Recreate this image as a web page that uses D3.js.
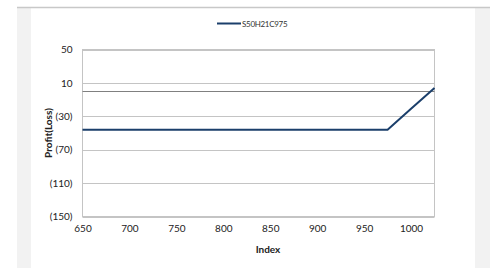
<!DOCTYPE html>
<html lang="en">
<head>
<meta charset="UTF-8">
<title>S50H21C975</title>
<script src="https://cdn.jsdelivr.net/npm/d3@7"></script>
<style>
  * { box-sizing: border-box; padding: 0; margin: 0; border: 0; }
  body { background: #fff; }
  text { font-family: Lato, "Open Sans", sans-serif; }
</style>
</head>
<body>
<svg width="495" height="268"></svg>
<script>
  // data
  var seriesName = "S50H21C975";
  var indexValues = [650, 675, 700, 725, 750, 775, 800, 825, 850, 875, 900, 925, 950, 975, 1000, 1025];
  var profitValues = [-46, -46, -46, -46, -46, -46, -46, -46, -46, -46, -46, -46, -46, -46, -21, 4];
  var xTicks = [650, 700, 750, 800, 850, 900, 950, 1000];
  var yTicks = [50, 10, -30, -70, -110, -150];

  var svg = d3.select("svg");

  // background frame
  svg.append("rect").attr("x", 17).attr("y", 7).attr("width", 473).attr("height", 261).attr("fill", "#f2f2f2");
  svg.append("rect").attr("x", 31).attr("y", 8).attr("width", 444).attr("height", 260).attr("fill", "#fff");
  svg.append("line").attr("x1", 17).attr("x2", 490).attr("y1", 7.5).attr("y2", 7.5)
    .attr("stroke", "#c8c8c8").attr("stroke-width", 1.5);

  var plot = { left: 82.5, right: 434.5, top: 49.5, bottom: 216.5 };

  var x = d3.scaleLinear().domain([650, 1025]).range([plot.left, plot.right]);
  var y = d3.scaleLinear().domain([-150, 50]).range([plot.bottom, plot.top]);

  // gridlines
  svg.append("g").selectAll("line").data(yTicks).enter().append("line")
    .attr("x1", plot.left).attr("x2", plot.right)
    .attr("y1", function (d) { return Math.round(y(d)) + 0.5; })
    .attr("y2", function (d) { return Math.round(y(d)) + 0.5; })
    .attr("stroke", "#c4c4c4").attr("stroke-width", 1);

  // plot border
  svg.append("rect").attr("x", plot.left).attr("y", plot.top)
    .attr("width", plot.right - plot.left).attr("height", plot.bottom - plot.top)
    .attr("fill", "none").attr("stroke", "#c4c4c4").attr("stroke-width", 1);

  // zero line
  svg.append("line").attr("x1", plot.left).attr("x2", plot.right)
    .attr("y1", Math.round(y(0)) + 0.5).attr("y2", Math.round(y(0)) + 0.5)
    .attr("stroke", "#808080").attr("stroke-width", 1);

  // y axis labels
  var fmt = function (d) { return d < 0 ? "(" + (-d) + ")" : String(d); };
  var yAxis = d3.axisLeft(y).tickValues(yTicks).tickFormat(fmt).tickSize(0).tickPadding(10);
  var gy = svg.append("g").attr("transform", "translate(" + plot.left + ",0)").call(yAxis);
  gy.select(".domain").remove();
  gy.selectAll("text").attr("font-size", 10).attr("fill", "#222").attr("font-family", "Lato, sans-serif");

  // x axis labels
  var xAxis = d3.axisBottom(x).tickValues(xTicks).tickFormat(function (d) { return String(d); })
    .tickSize(0).tickPadding(8);
  var gx = svg.append("g").attr("transform", "translate(0," + plot.bottom + ")").call(xAxis);
  gx.select(".domain").remove();
  gx.selectAll("text").attr("font-size", 10).attr("fill", "#222").attr("font-family", "Lato, sans-serif");

  // series line
  var line = d3.line()
    .x(function (d, i) { return x(indexValues[i]); })
    .y(function (d) { return y(d); });
  svg.append("path").datum(profitValues)
    .attr("d", line)
    .attr("fill", "none")
    .attr("stroke", "#1b3f6b")
    .attr("stroke-width", 2);

  // axis titles
  svg.append("text").attr("x", 268).attr("y", 253)
    .attr("text-anchor", "middle").attr("font-size", 10).attr("font-weight", "bold")
    .attr("fill", "#222").text("Index");
  svg.append("text").attr("transform", "translate(52,133) rotate(-90)")
    .attr("text-anchor", "middle").attr("font-size", 10).attr("font-weight", "bold")
    .attr("fill", "#222").text("Profit(Loss)");

  // legend
  svg.append("line").attr("x1", 217).attr("x2", 241).attr("y1", 23.5).attr("y2", 23.5)
    .attr("stroke", "#1b3f6b").attr("stroke-width", 2);
  svg.append("text").attr("x", 242).attr("y", 26.5)
    .attr("font-size", 8).attr("fill", "#333").attr("letter-spacing", -0.3)
    .text(seriesName);
</script>
</body>
</html>
